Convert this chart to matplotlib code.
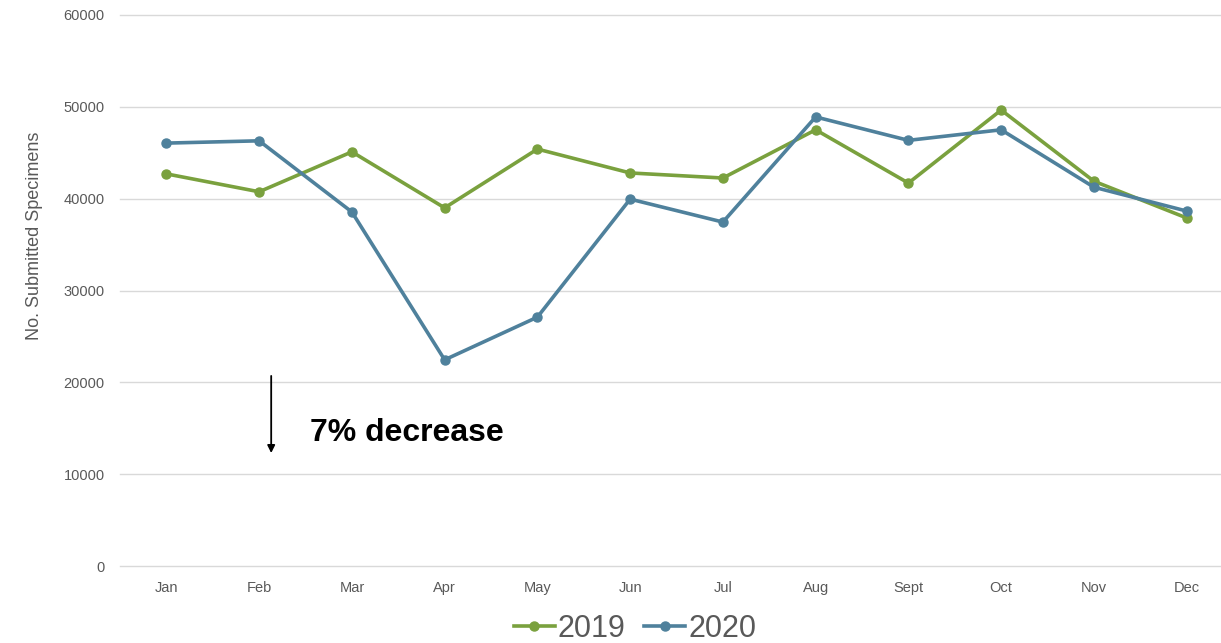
import matplotlib.pyplot as plt
import numpy as np

months = ['Jan', 'Feb', 'Mar', 'Apr', 'May', 'Jun', 'Jul', 'Aug', 'Sept', 'Oct', 'Nov', 'Dec']
vals_2019 = [42700, 40750, 45100, 39000, 45400, 42800, 42250, 47500, 41700, 49650, 41900, 37900]
vals_2020 = [46050, 46300, 38550, 22450, 27100, 39950, 37450, 48900, 46350, 47500, 41250, 38650]
y_ticks = [0, 10000, 20000, 30000, 40000, 50000, 60000]

green = '#7aa13e'
blue = '#4f819c'
gray = '#595959'

plt.rcParams['font.family'] = ['Liberation Sans', 'DejaVu Sans']

fig = plt.figure(figsize=(12.21, 6.43), dpi=100)
ax = fig.add_axes([120 / 1221, 1 - 566 / 643, 1 - 120 / 1221, (566 - 15) / 643])

x = np.arange(len(months))
ax.plot(x, vals_2019, color=green, lw=2.6, marker='o', ms=6.5, label='2019', zorder=3)
ax.plot(x, vals_2020, color=blue, lw=2.6, marker='o', ms=6.5, label='2020', zorder=3)

ax.set_xlim(-0.5, 11.37)
ax.set_ylim(0, 60000)
ax.set_yticks(y_ticks)
ax.set_yticklabels([str(v) for v in y_ticks])
ax.set_xticks(x)
ax.set_xticklabels(months)
ax.tick_params(length=0, labelsize=10.5, colors=gray)
ax.tick_params(axis='x', pad=11)
ax.tick_params(axis='y', pad=11)
ax.grid(axis='y', color='#d9d9d9', lw=1)
for gl in ax.get_ygridlines():
    gl.set_clip_on(False)
ax.set_axisbelow(True)
for s in ax.spines.values():
    s.set_visible(False)

ax.set_ylabel('No. Submitted Specimens', fontsize=13, color=gray, labelpad=15)
ax.yaxis.label.set_y(0.60)

# arrow + note
ax.annotate('', xy=(1.13, 12000), xytext=(1.13, 21000),
            arrowprops=dict(arrowstyle='-|>', color='black', lw=1.3, mutation_scale=11))
ax.text(1.55, 14450, '7% decrease', fontsize=23, fontweight='bold', color='black',
        va='center', ha='left')

leg = fig.legend(loc='center', bbox_to_anchor=(635 / 1221, 1 - 629 / 643), ncol=2,
                 frameon=False, fontsize=22, handlelength=1.35, handletextpad=0.1,
                 columnspacing=0.6, borderpad=0)
for t in leg.get_texts():
    t.set_color(gray)

plt.savefig('out.png', dpi=100)
